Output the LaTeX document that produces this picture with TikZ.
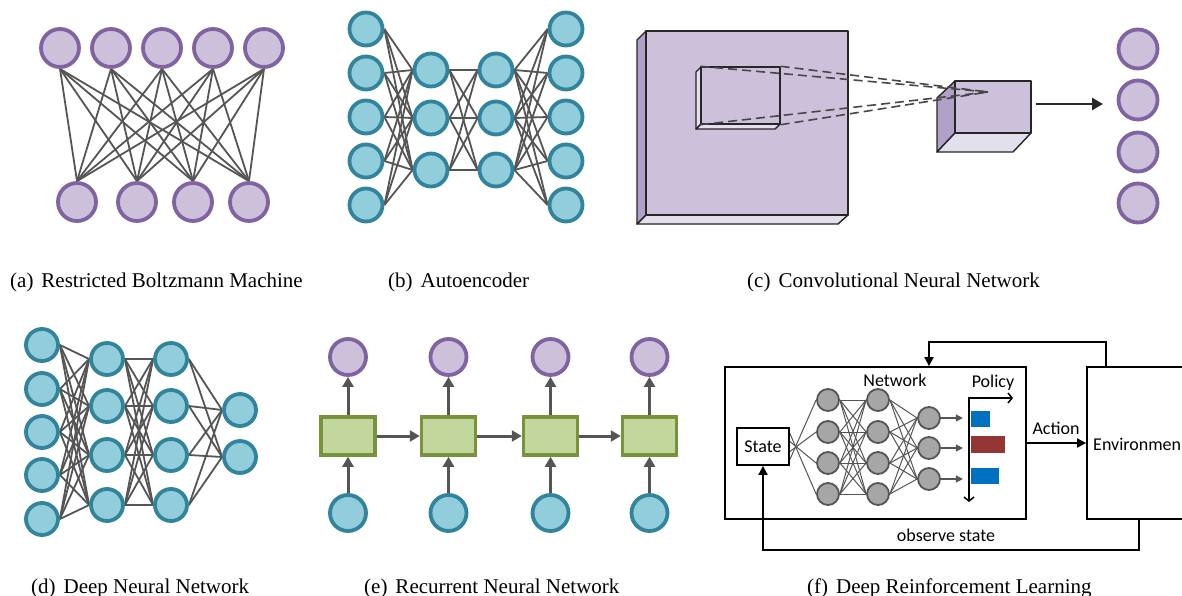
\documentclass[tikz,border=0pt]{standalone}
\usepackage{fontspec}
\setmainfont{Liberation Serif}
\newfontfamily\calib{Carlito}
\usetikzlibrary{arrows.meta,calc,backgrounds}
\definecolor{pfill}{HTML}{CCC0DA}
\definecolor{pborder}{HTML}{8064A2}
\definecolor{pside}{HTML}{B1A0C7}
\definecolor{plight}{HTML}{E4DFEC}
\definecolor{tfill}{HTML}{92CDDC}
\definecolor{tborder}{HTML}{31849B}
\definecolor{gfill}{HTML}{C3D69B}
\definecolor{gborder}{HTML}{77933C}
\definecolor{edgec}{HTML}{555555}
\definecolor{nodegray}{HTML}{A6A6A6}
\definecolor{barblue}{HTML}{0070C0}
\definecolor{barred}{HTML}{943634}
\begin{document}
\begin{tikzpicture}[x=1pt,y=-1pt,
  pcirc/.style={circle,draw=pborder,fill=pfill,line width=3.8pt,minimum size=38pt,inner sep=0pt},
  tcirc/.style={circle,draw=tborder,fill=tfill,line width=3.8pt,minimum size=32pt,inner sep=0pt},
  gbox/.style={rectangle,draw=gborder,fill=gfill,line width=3.5pt,minimum width=54pt,minimum height=38pt,inner sep=0pt},
  edge/.style={draw=edgec,line width=1.8pt},
  rarrow/.style={draw=edgec,line width=3pt,-{Triangle[length=10pt,width=11pt]}},
  captext/.style={anchor=base west,inner sep=0pt,font=\fontsize{21}{25}\selectfont},
  slab/.style={draw=black!85,line width=1.4pt,line join=round},
  dashln/.style={draw=black!72,line width=1.6pt,dash pattern=on 9pt off 5pt},
  gnode/.style={circle,draw=edgec,fill=nodegray,line width=1.8pt,minimum size=22pt,inner sep=0pt},
  nline/.style={draw=edgec,line width=1pt},
  drl/.style={draw=black,line width=1.8pt},
  drlarrow/.style={drl,-{Triangle[length=9pt,width=9pt]}},
  dtext/.style={font=\calib\fontsize{18}{21}\selectfont,inner sep=0pt}
]
\clip (0,0) rectangle (1182,596);
\begin{pgfonlayer}{background}
\fill[white] (0,0) rectangle (1182,596);
\end{pgfonlayer}

% ---------------- (a) RBM ----------------
\foreach \x [count=\i] in {60,111,162,213,264} \node[pcirc] (ra\i) at (\x,48) {};
\foreach \x [count=\i] in {77,137,193,249} \node[pcirc] (rb\i) at (\x,202) {};
\begin{pgfonlayer}{background}
\foreach \i in {1,...,5} \foreach \j in {1,...,4} \draw[edge] (ra\i.south) -- (rb\j.north);
\end{pgfonlayer}

% ---------------- (b) Autoencoder ----------------
\foreach \y [count=\i] in {29,73,117,161,205} {
  \node[tcirc,minimum size=33pt] (ea\i) at (366,\y) {};
  \node[tcirc,minimum size=33pt] (ed\i) at (566,\y) {};
}
\foreach \y [count=\i] in {70,118,170} {
  \node[tcirc,minimum size=33pt] (eb\i) at (431,\y) {};
  \node[tcirc,minimum size=33pt] (ec\i) at (496,\y) {};
}
\begin{pgfonlayer}{background}
\foreach \i in {1,...,5} \foreach \j in {1,...,3} {
  \draw[edge] (ea\i.east) -- (eb\j.west);
  \draw[edge] (ec\j.east) -- (ed\i.west);
}
\foreach \i in {1,...,3} \foreach \j in {1,...,3} \draw[edge] (eb\i.east) -- (ec\j.west);
\end{pgfonlayer}

% ---------------- (c) CNN ----------------
\filldraw[slab,fill=pside] (646,31) -- (637,40) -- (637,224) -- (646,215) -- cycle;
\filldraw[slab,fill=plight] (646,215) -- (848,215) -- (838,224) -- (637,224) -- cycle;
\node[slab,fill=pfill,rectangle,minimum width=202pt,minimum height=184pt,inner sep=0pt] (bigslab) at (747,123) {};
\filldraw[slab,fill=plight] (701,67) -- (696,72) -- (696,129) -- (701,124) -- cycle;
\filldraw[slab,fill=plight] (701,124) -- (780,124) -- (775,129) -- (696,129) -- cycle;
\node[slab,fill=pfill,rectangle,minimum width=79pt,minimum height=57pt,inner sep=0pt] (win) at (740.5,95.5) {};
\filldraw[slab,fill=pside] (955,81) -- (937,98) -- (937,152) -- (955,133) -- cycle;
\filldraw[slab,fill=plight] (955,133) -- (1031,133) -- (1013,152) -- (937,152) -- cycle;
\node[slab,fill=pfill,rectangle,minimum width=76pt,minimum height=52pt,inner sep=0pt] (cube) at (993,107) {};
\coordinate (focus) at (988,92);
\foreach \c in {north west,north east,south west,south east} \draw[dashln] (win.\c) -- (focus);
\foreach \y [count=\i] in {49,100,152,203} \node[pcirc,minimum size=39pt] (co\i) at (1138,\y) {};
\coordinate (cnnend) at (1103,104);
\draw[draw=black!85,line width=2.6pt,-{Triangle[length=11pt,width=12pt]}] (cube.east |- cnnend) ++(4,0) -- (cnnend);

% ---------------- (d) DNN ----------------
\foreach \y [count=\i] in {345,389,432,475,519} \node[tcirc] (da\i) at (42,\y) {};
\foreach \y [count=\i] in {359,406,455,505} {
  \node[tcirc] (db\i) at (107,\y) {};
  \node[tcirc] (dc\i) at (171,\y) {};
}
\foreach \y [count=\i] in {410,457} \node[tcirc] (dd\i) at (240,\y) {};
\begin{pgfonlayer}{background}
\foreach \i in {1,...,5} \foreach \j in {1,...,4} \draw[edge] (da\i.east) -- (db\j.west);
\foreach \i in {1,...,4} \foreach \j in {1,...,4} \draw[edge] (db\i.east) -- (dc\j.west);
\foreach \i in {1,...,4} \foreach \j in {1,2} \draw[edge] (dc\i.east) -- (dd\j.west);
\end{pgfonlayer}

% ---------------- (e) RNN ----------------
\foreach \x [count=\i] in {348,448.5,550.5,649.5} {
  \node[pcirc,minimum size=36pt] (ro\i) at (\x,357) {};
  \node[gbox] (rh\i) at (\x,436) {};
  \node[tcirc,minimum size=36pt] (ri\i) at (\x,513) {};
  \draw[rarrow] (rh\i.north) -- (ro\i.south);
  \draw[rarrow] (ri\i.north) -- (rh\i.south);
}
\foreach \i/\j in {1/2,2/3,3/4} \draw[rarrow] (rh\i.east) -- (rh\j.west);

% ---------------- (f) DRL ----------------
\node[drl,rectangle,minimum width=301pt,minimum height=152pt,inner sep=0pt] (outer) at (875.5,443) {};
\node[drl,rectangle,minimum width=160pt,minimum height=152pt,inner sep=0pt] (env) at (1167,443) {};
\node[dtext,anchor=west] (envt) at (1093,444) {Environmen};
\node[drl,rectangle,minimum width=52pt,minimum height=37pt,inner sep=0pt,font=\calib\fontsize{18}{21}\selectfont] (state) at (763,446.5) {State};
\node[dtext] (nettext) at (895,380) {Network};
\node[dtext] (poltext) at (993,383) {Policy};
\foreach \y [count=\i] in {400,432,463,494} {
  \node[gnode] (na\i) at (828,\y) {};
  \node[gnode] (nb\i) at (878,\y) {};
}
\foreach \y [count=\i] in {418,448,479} \node[gnode] (nc\i) at (929,\y) {};
\begin{pgfonlayer}{background}
\foreach \i/\s in {1/-13,2/-5,3/5,4/13} \draw[nline] ([yshift=\s pt]state.east) -- (na\i.west);
\foreach \i in {1,...,4} \foreach \j in {1,...,4} \draw[nline] (na\i.east) -- (nb\j.west);
\foreach \i in {1,...,4} \foreach \j in {1,...,3} \draw[nline] (nb\i.east) -- (nc\j.west);
\end{pgfonlayer}
\foreach \i in {1,2,3} {
  \coordinate (pt\i) at ($(nc\i.east)+(22,0)$);
  \draw[draw=edgec,line width=1.3pt,-{Triangle[length=7pt,width=7pt]}] (nc\i.east) -- (pt\i);
}
\fill[barblue] (971,411) rectangle (990,427);
\fill[barred] (971,436) rectangle (1005,453);
\fill[barblue] (971,468) rectangle (999,484);
\coordinate (axo) at (969,398);
\coordinate (axx) at (1013,398);
\coordinate (axy) at (969,502);
\draw[line width=1.5pt,{Straight Barb[length=4pt,width=10pt]}-{Straight Barb[length=4pt,width=10pt]}] (axx) -- (axo) -- (axy);
\draw[drlarrow] (outer.east) -- (env.west);
\node[dtext] (acttext) at (1056,428) {Action};
\coordinate (fbtop) at (929,342);
\draw[drlarrow] ([xshift=20pt]env.north west) |- (fbtop) -- (fbtop |- outer.north);
\coordinate (fbbot) at (763,550);
\draw[drlarrow] ([xshift=53pt]env.south west) |- (fbbot) -- (state.south);
\node[dtext] (obstext) at (946,535) {observe state};

% ---------------- captions ----------------
\node[captext] (capa) at (10,287) {(a)\hspace{8pt}Restricted Boltzmann Machine};
\node[captext] (capb) at (388,287) {(b)\hspace{8pt}Autoencoder};
\node[captext] (capc) at (747,287) {(c)\hspace{8pt}Convolutional Neural Network};
\node[captext] (capd) at (31,593) {(d)\hspace{8pt}Deep Neural Network};
\node[captext] (cape) at (364,593) {(e)\hspace{8pt}Recurrent Neural Network};
\node[captext] (capf) at (807,593) {(f)\hspace{8pt}Deep Reinforcement Learning};
\end{tikzpicture}
\end{document}
